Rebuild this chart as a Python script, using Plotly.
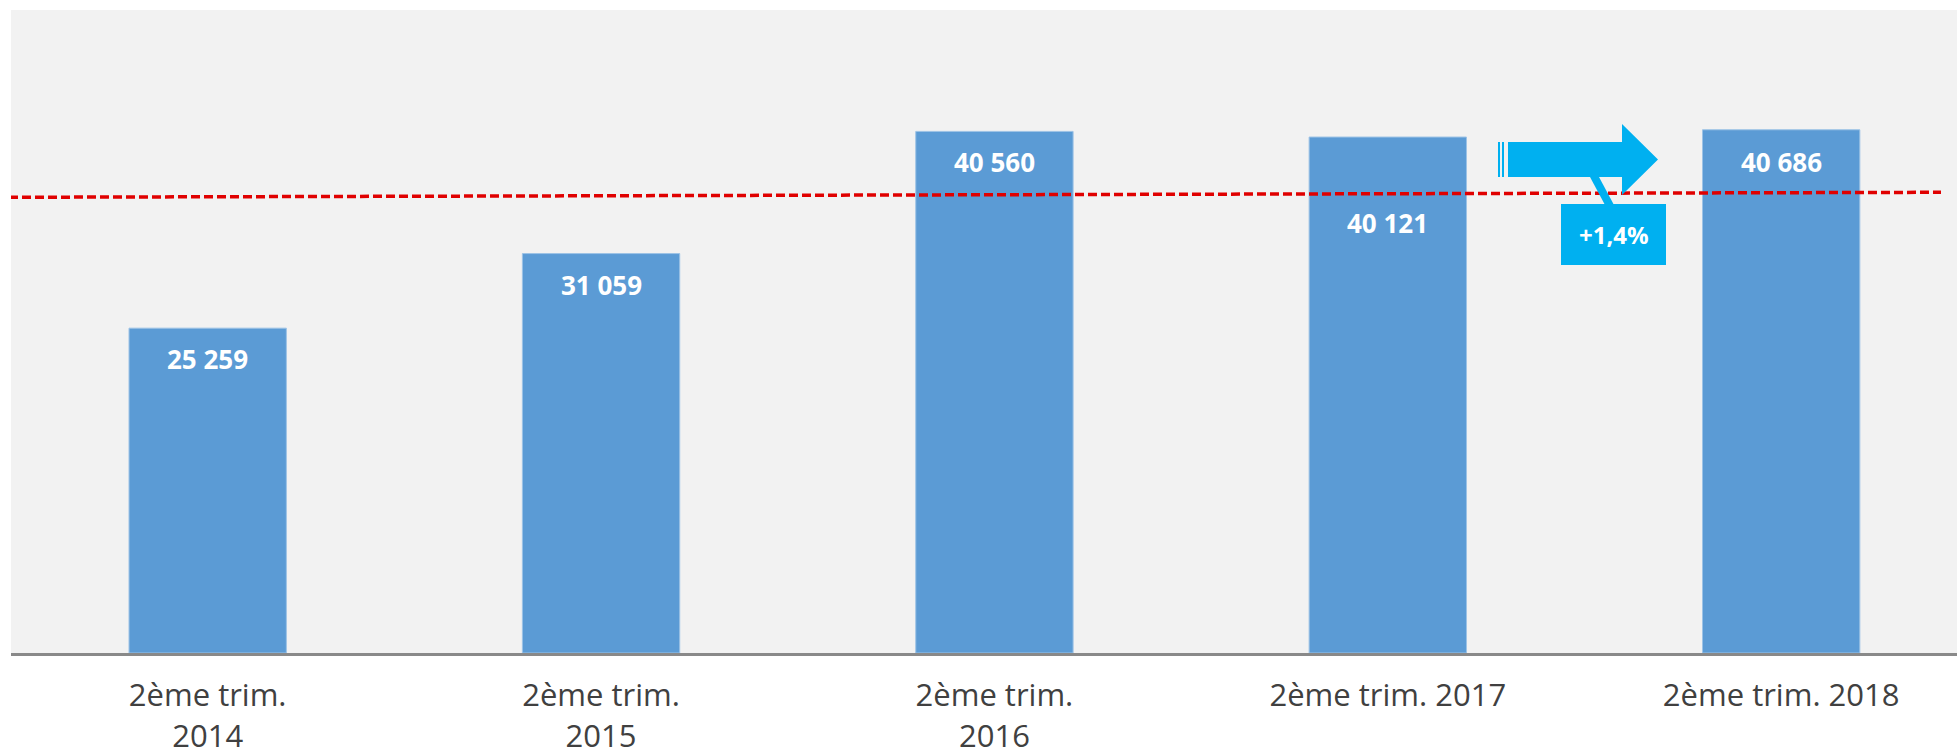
import plotly.graph_objects as go

# ---- data ----
categories = ["2ème trim.<br>2014", "2ème trim.<br>2015", "2ème trim.<br>2016",
              "2ème trim. 2017", "2ème trim. 2018"]
values = [25259, 31059, 40560, 40121, 40686]
value_labels = ["25 259", "31 059", "40 560", "40 121", "40 686"]
label_offsets = [31, 31, 31, 86, 32]          # px below bar top
reference_line = [35436, 35824]               # dashed red line, left/right
growth_label = "+1,4%"

# ---- layout geometry ----
W, H = 1957, 755
ML, MR, MT, MB = 11, 0, 10, 102
XR = [-0.5, 4.447]
YR = [0, 50000]
PW, PH = W - ML - MR, H - MT - MB


def px_x(px):
    return XR[0] + (px - ML) / PW * (XR[1] - XR[0])


def px_y(py):
    return YR[0] + (H - MB - py) / PH * (YR[1] - YR[0])


def path(points):
    return "M " + " L ".join(f"{px_x(a)},{px_y(b)}" for a, b in points) + " Z"


xs = list(range(len(categories)))
BAR = "#5b9bd5"
CYAN = "#00b0f0"

fig = go.Figure()
fig.add_trace(go.Bar(
    x=xs, y=values, width=0.4,
    marker=dict(color=BAR, line=dict(color="#9dc3e6", width=1)),
    hoverinfo="skip",
))

# value labels
for x, v, t, off in zip(xs, values, value_labels, label_offsets):
    fig.add_annotation(x=x, y=v, text=f"<b>{t}</b>", showarrow=False,
                       yanchor="middle", yshift=-off,
                       font=dict(family="Open Sans", size=26, color="white"))

shapes = []
# dashed reference line
shapes.append(dict(type="line", xref="x", yref="y",
                   x0=px_x(9), x1=px_x(1941),
                   y0=reference_line[0], y1=reference_line[1],
                   line=dict(color="#e00000", width=3.5, dash="9px,4px")))
# arrow stripes + body + head
shapes.append(dict(type="path", xref="x", yref="y", line=dict(width=0), fillcolor=CYAN,
                   path=path([(1498, 142), (1500, 142), (1500, 177), (1498, 177)])))
shapes.append(dict(type="path", xref="x", yref="y", line=dict(width=0), fillcolor=CYAN,
                   path=path([(1502, 142), (1504, 142), (1504, 177), (1502, 177)])))
shapes.append(dict(type="path", xref="x", yref="y", line=dict(width=0), fillcolor=CYAN,
                   path=path([(1508, 142), (1622, 142), (1622, 124), (1658, 159.5),
                              (1622, 195), (1622, 177), (1508, 177)])))
# callout pointer and box
shapes.append(dict(type="path", xref="x", yref="y", line=dict(width=0), fillcolor=CYAN,
                   path=path([(1590, 177), (1599, 177), (1614, 205), (1605, 205)])))
shapes.append(dict(type="path", xref="x", yref="y", line=dict(width=0), fillcolor=CYAN,
                   path=path([(1561, 204), (1666, 204), (1666, 265), (1561, 265)])))

fig.add_annotation(x=px_x(1613.5), y=px_y(234.5), text=f"<b>{growth_label}</b>",
                   showarrow=False, xanchor="center", yanchor="middle",
                   font=dict(family="Open Sans", size=24, color="white"))

fig.update_layout(
    width=W, height=H,
    margin=dict(l=ML, r=MR, t=MT, b=MB, pad=0),
    paper_bgcolor="white", plot_bgcolor="#f2f2f2",
    showlegend=False, shapes=shapes,
)
fig.update_xaxes(range=XR, tickvals=xs, ticktext=categories,
                 showline=True, linecolor="#898989", linewidth=3,
                 showgrid=False, zeroline=False, ticks="",
                 ticklabelstandoff=13,
                 tickfont=dict(family="Open Sans", size=31, color="#404040"))
fig.update_yaxes(range=YR, visible=False, showgrid=False, zeroline=False)

fig.write_html("out.html", config={"displayModeBar": False})
